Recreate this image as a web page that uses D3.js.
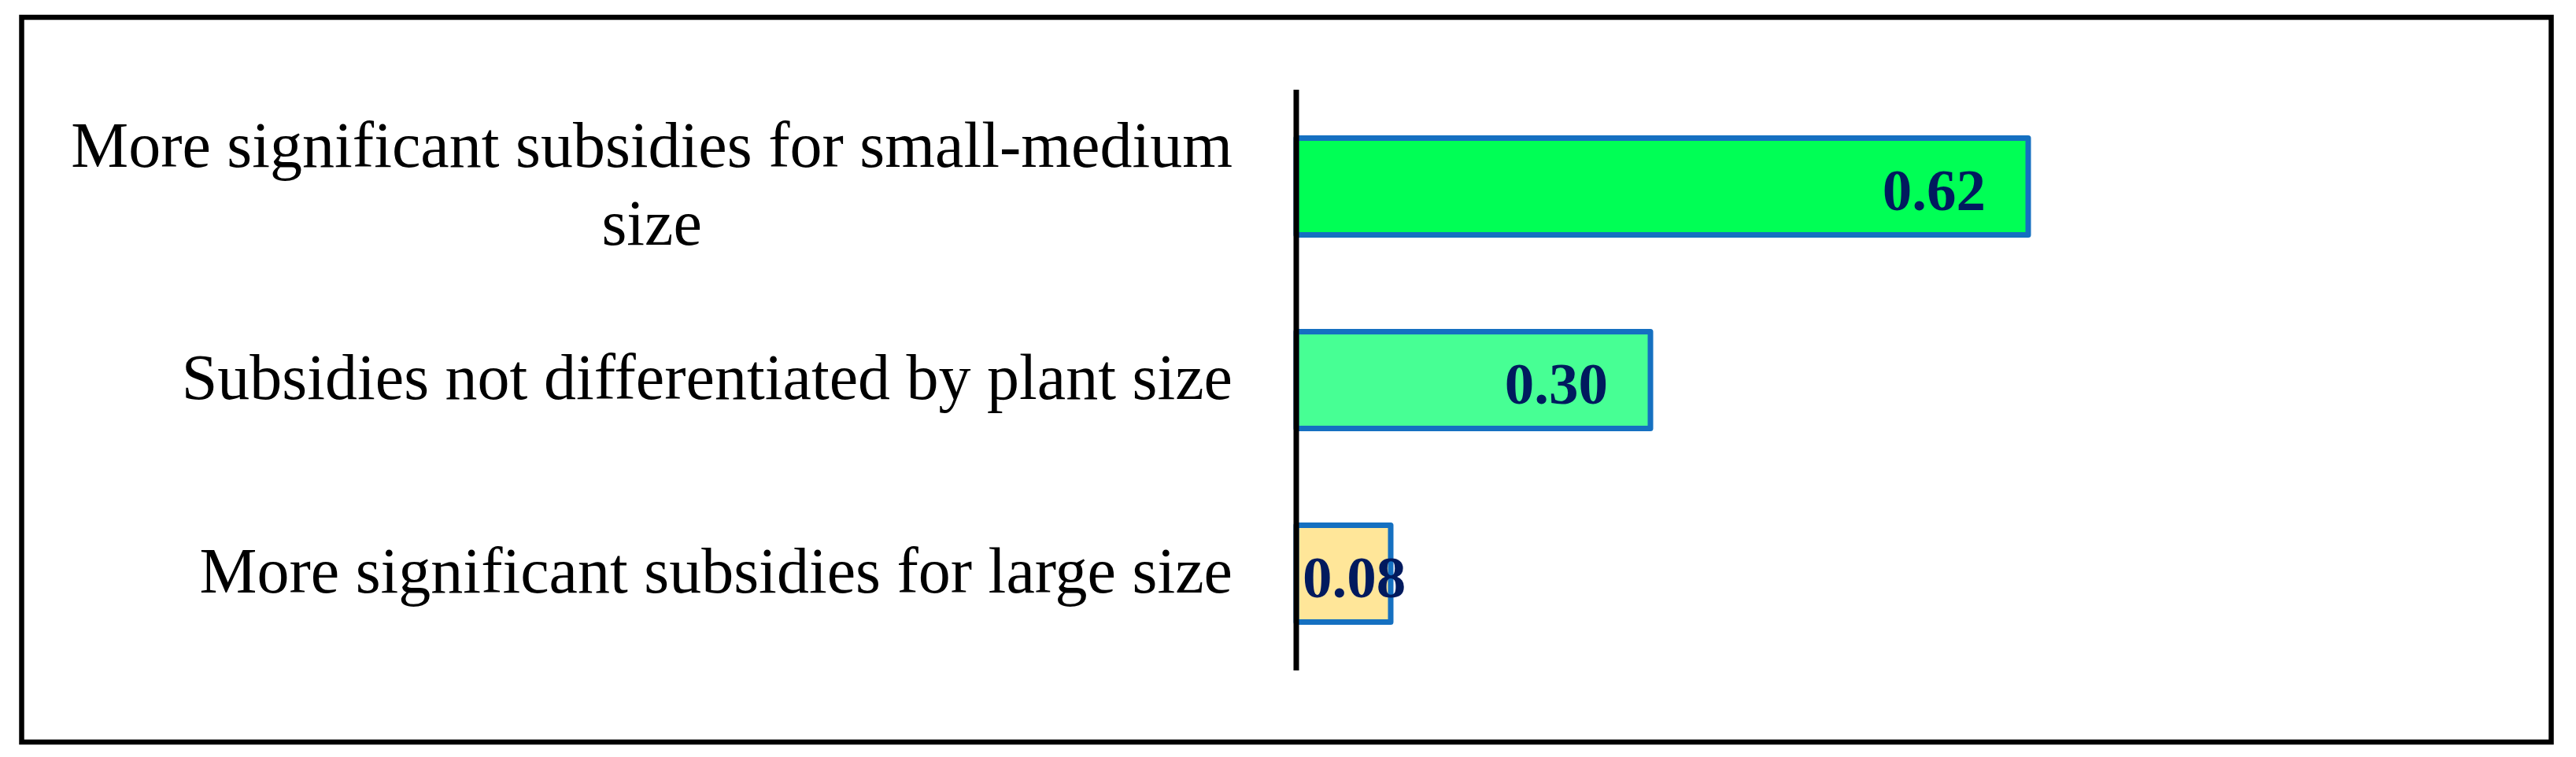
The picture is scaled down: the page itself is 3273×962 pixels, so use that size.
<!DOCTYPE html>
<html>
<head>
<meta charset="utf-8">
<script src="https://cdn.jsdelivr.net/npm/d3@7"></script>
<style>
  body { margin: 0; background: #fff; }
  svg { display: block; }
</style>
</head>
<body>
<script>
//data
const categories = [
  "More significant subsidies for small-medium size",
  "Subsidies not differentiated by plant size",
  "More significant subsidies for large size",
];
const values = [0.62, 0.3, 0.08];
const valueLabels = ["0.62", "0.30", "0.08"];
const barColors = ["#00ff55", "#47ff94", "#ffe699"];

//SVG setup
const W = 3273,
  H = 962;
const margin = { top: 114, right: 131, bottom: 110, left: 1647 },
  width = W - margin.left - margin.right,
  height = H - margin.top - margin.bottom;

const svg = d3
  .select("body")
  .append("svg")
  .attr("width", W)
  .attr("height", H);

//outer frame
svg
  .append("rect")
  .attr("x", 27.5)
  .attr("y", 22)
  .attr("width", 3241.5 - 27.5)
  .attr("height", 943 - 22)
  .attr("fill", "none")
  .attr("stroke", "#000")
  .attr("stroke-width", 6.5);

const g = svg
  .append("g")
  .attr("transform", `translate(${margin.left}, ${margin.top})`);

//scales
const x = d3.scaleLinear().domain([0, 1]).range([0, 1500]);
const y = d3
  .scaleBand()
  .domain(categories)
  .range([0, height])
  .paddingInner(0.5)
  .paddingOuter(0.25);

//bars
g.selectAll(".bar")
  .data(values)
  .enter()
  .append("rect")
  .attr("class", "bar")
  .attr("x", 0)
  .attr("y", (d, i) => y(categories[i]))
  .attr("width", (d) => x(d))
  .attr("height", y.bandwidth())
  .attr("fill", (d, i) => barColors[i])
  .attr("stroke", "#1570c1")
  .attr("stroke-width", 7)
  .attr("stroke-linejoin", "round");

//value labels, inside end unless they don't fit
const vl = g
  .selectAll(".val")
  .data(values)
  .enter()
  .append("text")
  .attr("class", "val")
  .attr("y", (d, i) => y(categories[i]) + y.bandwidth() / 2 + 30)
  .style("font-family", "'Liberation Serif', serif")
  .style("font-weight", "bold")
  .style("font-size", "75px")
  .attr("fill", "#011a5e")
  .text((d, i) => valueLabels[i]);

vl.each(function (d) {
  const t = d3.select(this);
  const w = this.getComputedTextLength();
  const xe = x(d) - 54;
  if (xe - w < 8) {
    t.attr("x", 8).attr("text-anchor", "start");
  } else {
    t.attr("x", xe).attr("text-anchor", "end");
  }
});

//category labels (wrapped, block right aligned, lines centered)
const labelRight = -81,
  lineH = 99,
  maxW = 1520;

categories.forEach(function (c, i) {
  const t = g
    .append("text")
    .style("font-family", "'Liberation Serif', serif")
    .style("font-size", "82px")
    .attr("fill", "#000")
    .attr("text-anchor", "middle");

  //wrap words into lines
  const words = c.split(" ");
  const lines = [];
  let cur = [];
  const probe = t.append("tspan");
  words.forEach(function (w) {
    const test = cur.concat([w]).join(" ");
    probe.text(test);
    if (probe.node().getComputedTextLength() > maxW && cur.length) {
      lines.push(cur.join(" "));
      cur = [w];
    } else {
      cur.push(w);
    }
  });
  lines.push(cur.join(" "));
  probe.remove();

  let blockW = 0;
  lines.forEach(function (l) {
    probe.text(l);
    t.node().appendChild(probe.node());
    blockW = Math.max(blockW, probe.node().getComputedTextLength());
    probe.remove();
  });

  const cx = labelRight - blockW / 2;
  const cy = y(c) + y.bandwidth() / 2 + 24 - ((lines.length - 1) * lineH) / 2;
  lines.forEach(function (l, k) {
    t.append("tspan")
      .attr("x", cx)
      .attr("y", cy + k * lineH)
      .text(l);
  });
});

//vertical axis line
g.append("line")
  .attr("x1", 0)
  .attr("x2", 0)
  .attr("y1", 0)
  .attr("y2", height)
  .attr("stroke", "#000")
  .attr("stroke-width", 7);
</script>
</body>
</html>
